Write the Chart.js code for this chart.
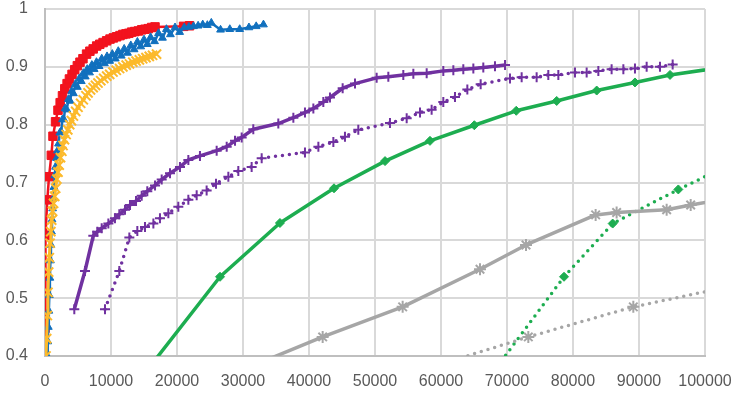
<!DOCTYPE html>
<html lang="en">
<head>
<meta charset="UTF-8">
<title>Curvas</title>
<style>
    html, body { margin: 0; padding: 0; background: #ffffff; }
    #wrap { width: 742px; height: 396px; }
</style>
</head>
<body>
<div id="wrap"><canvas id="myChart" width="742" height="396"></canvas></div>

<script src="https://cdn.jsdelivr.net/npm/chart.js"></script>
<script>
    // tick labels
    const xTickLabels = ['0', '10000', '20000', '30000', '40000', '50000', '60000', '70000', '80000', '90000', '100000'];
    const yTickLabels = ['0.4', '0.5', '0.6', '0.7', '0.8', '0.9', '1'];

    // red squares
    const redX = [0, 0, 60, 150, 350, 610, 960, 1210, 1600, 1970, 2300, 2650, 3000, 3350, 3700, 4100, 4500, 4900, 5300, 5750,
        6300, 6800, 7300, 7830, 8300, 8800, 9340, 9850, 10350, 10850, 11360, 11800, 12270, 12700, 13130, 13600, 14140, 14650,
        15150, 15650, 16160, 16670, 21000, 21900];
    const redY = [0.385, 0.448, 0.540, 0.609, 0.670, 0.710, 0.747, 0.780, 0.805, 0.825, 0.838, 0.850, 0.862, 0.871, 0.879, 0.887,
        0.895, 0.902, 0.908, 0.914, 0.922, 0.927, 0.931, 0.936, 0.939, 0.942, 0.945, 0.948, 0.950, 0.952, 0.954, 0.956, 0.957,
        0.958, 0.960, 0.961, 0.962, 0.964, 0.965, 0.966, 0.968, 0.969, 0.970, 0.971];

    // blue triangles
    const blueX = [350, 420, 500, 580, 660, 740, 820, 900, 980, 1060, 1150, 1250, 1350, 1470, 1600, 1750, 1900, 2050, 2250, 2450,
        2650, 2850, 3050, 3300, 3550, 3800, 4050, 4300, 4600, 4900, 5200, 5500, 5800, 6100, 6400, 6750, 7100, 7450, 7800, 8200,
        8600, 9000, 9400, 9800, 10200, 10650, 11100, 11550, 12000, 12500, 13000, 13500, 14000, 14500, 15000, 15500, 16000,
        16600, 17200, 17800, 18400, 19000, 19700, 20400, 21100, 21800, 22500, 23200, 23900, 24600, 25200, 26600, 28000,
        29500, 30900, 32000, 33100];
    const blueY = [0.400, 0.425, 0.450, 0.478, 0.505, 0.535, 0.565, 0.592, 0.615, 0.636, 0.655, 0.672, 0.692, 0.712, 0.727,
        0.742, 0.755, 0.767, 0.786, 0.788, 0.809, 0.809, 0.828, 0.826, 0.844, 0.841, 0.858, 0.854, 0.870, 0.865, 0.880, 0.875,
        0.889, 0.883, 0.896, 0.890, 0.903, 0.896, 0.908, 0.901, 0.914, 0.906, 0.918, 0.910, 0.922, 0.914, 0.927, 0.919, 0.931,
        0.924, 0.937, 0.930, 0.943, 0.935, 0.947, 0.939, 0.951, 0.944, 0.958, 0.950, 0.965, 0.956, 0.968, 0.960, 0.968, 0.969,
        0.970, 0.971, 0.973, 0.972, 0.976, 0.964, 0.965, 0.965, 0.968, 0.970, 0.973];

    // yellow x marks
    const yellowX = [150, 250, 350, 450, 550, 650, 760, 880, 1010, 1150, 1300, 1470, 1620, 1800, 1970, 2150, 2350, 2550, 2730,
        2950, 3200, 3450, 3740, 4000, 4300, 4650, 5000, 5400, 5800, 6200, 6520, 6900, 7300, 7650, 8030, 8450, 8900, 9350, 9800,
        10300, 10800, 11300, 11800, 12300, 12800, 13300, 13800, 14300, 14800, 15300, 15800, 16300, 16900];
    const yellowY = [0.400, 0.430, 0.470, 0.510, 0.545, 0.570, 0.595, 0.615, 0.635, 0.650, 0.664, 0.676, 0.690, 0.706, 0.718,
        0.730, 0.743, 0.754, 0.764, 0.774, 0.783, 0.791, 0.800, 0.807, 0.815, 0.823, 0.830, 0.837, 0.843, 0.850, 0.855, 0.860,
        0.864, 0.868, 0.872, 0.876, 0.880, 0.884, 0.887, 0.891, 0.894, 0.897, 0.900, 0.903, 0.905, 0.908, 0.910, 0.912, 0.914,
        0.916, 0.918, 0.920, 0.922];

    // purple, solid line with + marks
    const purpleX = [4440, 6060, 7320, 7930, 8590, 9600, 10600, 11260, 12120, 12880, 13790, 14650, 15500, 16670, 17680, 18940,
        20450, 21720, 23480, 26010, 27530, 28790, 29800, 31560, 35350, 37630, 39390, 40660, 42170, 43180, 45100, 46970, 50250,
        52020, 54290, 55810, 57830, 60350, 61870, 63380, 64900, 66410, 68180, 69700];
    const purpleY = [0.481, 0.547, 0.608, 0.615, 0.621, 0.629, 0.638, 0.645, 0.653, 0.661, 0.668, 0.677, 0.685, 0.695, 0.705,
        0.716, 0.727, 0.739, 0.746, 0.755, 0.762, 0.772, 0.778, 0.792, 0.802, 0.812, 0.821, 0.828, 0.839, 0.847, 0.863, 0.871,
        0.881, 0.883, 0.886, 0.888, 0.889, 0.893, 0.894, 0.896, 0.897, 0.899, 0.901, 0.903];

    // purple, dotted line with + marks
    const purpleDotX = [9090, 11260, 12780, 13990, 15150, 16420, 17420, 18690, 20200, 21720, 22980, 24490, 25910, 27780, 29290,
        31310, 32830, 39390, 41420, 43690, 45450, 47470, 52270, 54800, 56820, 58580, 60350, 62120, 63990, 66010, 70450, 72220,
        74490, 76260, 77780, 80300, 82070, 83840, 85850, 87630, 89390, 91160, 93180, 95100];
    const purpleDotY = [0.481, 0.547, 0.605, 0.616, 0.623, 0.629, 0.638, 0.647, 0.658, 0.670, 0.678, 0.686, 0.698, 0.710, 0.720,
        0.727, 0.742, 0.752, 0.762, 0.770, 0.779, 0.791, 0.803, 0.811, 0.821, 0.826, 0.839, 0.848, 0.861, 0.870, 0.880, 0.882,
        0.882, 0.886, 0.886, 0.890, 0.890, 0.893, 0.896, 0.896, 0.897, 0.900, 0.900, 0.904];

    // green, solid line with diamonds
    const greenX = [14000, 26520, 35600, 43790, 51520, 58330, 65050, 71400, 77530, 83590, 89390, 94700, 105000];
    const greenY = [0.354, 0.537, 0.630, 0.690, 0.737, 0.772, 0.799, 0.824, 0.841, 0.859, 0.873, 0.886, 0.903];

    // green, dotted line with diamonds
    const greenDotX = [66000, 78640, 86010, 95960, 104000];
    const greenDotY = [0.343, 0.537, 0.629, 0.688, 0.732];

    // grey, solid line with stars
    const greyX = [28000, 42070, 54190, 65910, 72880, 83430, 86610, 94190, 97830, 105000];
    const greyY = [0.367, 0.433, 0.485, 0.550, 0.592, 0.644, 0.648, 0.653, 0.661, 0.676];

    // grey, dotted line with stars
    const greyDotX = [58000, 73230, 89140, 115000];
    const greyDotY = [0.379, 0.433, 0.485, 0.547];

    function pts(xs, ys) {
        return xs.map((x, i) => ({ x: x, y: ys[i] }));
    }

    function serie(xs, ys, color, style, radius, lineW, dotted, order) {
        return {
            data: pts(xs, ys),
            showLine: true,
            borderColor: color,
            backgroundColor: color,
            borderWidth: lineW,
            borderDash: dotted ? [0, 7] : [],
            borderCapStyle: dotted ? 'round' : 'butt',
            borderJoinStyle: 'round',
            pointStyle: style,
            pointRadius: radius,
            pointBorderWidth: (style === 'cross' || style === 'crossRot' || style === 'star') ? 2 : 1,
            pointBorderColor: color,
            pointBackgroundColor: color,
            pointHoverRadius: radius,
            tension: 0,
            order: order
        };
    }

    const ctx = document.getElementById('myChart').getContext('2d');
    const myChart = new Chart(ctx, {
        type: 'scatter',
        data: {
            datasets: [
                serie(redX, redY, '#F2131E', 'rect', 6, 2.5, false, 12),
                serie(blueX, blueY, '#1170BE', 'triangle', 4.5, 2.5, false, 11),
                serie(yellowX, yellowY, '#FCBA2C', 'crossRot', 6.5, 3, false, 10),
                serie(purpleX, purpleY, '#7031A0', 'cross', 5, 3.5, false, 9),
                serie(purpleDotX, purpleDotY, '#7031A0', 'cross', 5, 3.5, true, 8),
                serie(greenX, greenY, '#1DAD50', 'rectRot', 4.5, 3.5, false, 7),
                serie(greenDotX, greenDotY, '#1DAD50', 'rectRot', 4.5, 3.5, true, 6),
                serie(greyX, greyY, '#A6A6A6', 'star', 6, 3.5, false, 5),
                serie(greyDotX, greyDotY, '#A6A6A6', 'star', 6, 3.5, true, 4)
            ]
        },
        options: {
            responsive: false,
            animation: false,
            devicePixelRatio: 1,
            layout: { padding: { top: 9, right: 37, left: 0, bottom: 0 } },
            plugins: {
                legend: { display: false },
                tooltip: { enabled: false }
            },
            scales: {
                x: {
                    type: 'linear',
                    min: 0,
                    max: 100000,
                    afterFit: (s) => { s.height = 40; },
                    // invisible tick marks keep the labels away from the axis
                    grid: { color: '#D9D9D9', lineWidth: 2, drawTicks: true, tickLength: 17, tickColor: 'rgba(0,0,0,0)' },
                    border: { color: '#BFBFBF', width: 2 },
                    ticks: {
                        stepSize: 10000,
                        autoSkip: false,
                        maxRotation: 0,
                        padding: 0,
                        color: '#595959',
                        font: { family: 'Liberation Sans', size: 16, lineHeight: 1.1 },
                        callback: (v, i) => xTickLabels[i]
                    }
                },
                y: {
                    min: 0.4,
                    max: 1,
                    afterFit: (s) => { s.width = 45; },
                    grid: { color: '#D9D9D9', lineWidth: 2, drawTicks: true, tickLength: 17, tickColor: 'rgba(0,0,0,0)' },
                    border: { color: '#BFBFBF', width: 2 },
                    ticks: {
                        stepSize: 0.1,
                        padding: 0,
                        color: '#595959',
                        font: { family: 'Liberation Sans', size: 16, lineHeight: 1.1 },
                        callback: (v, i) => yTickLabels[i]
                    }
                }
            }
        }
    });
</script>
</body>
</html>
